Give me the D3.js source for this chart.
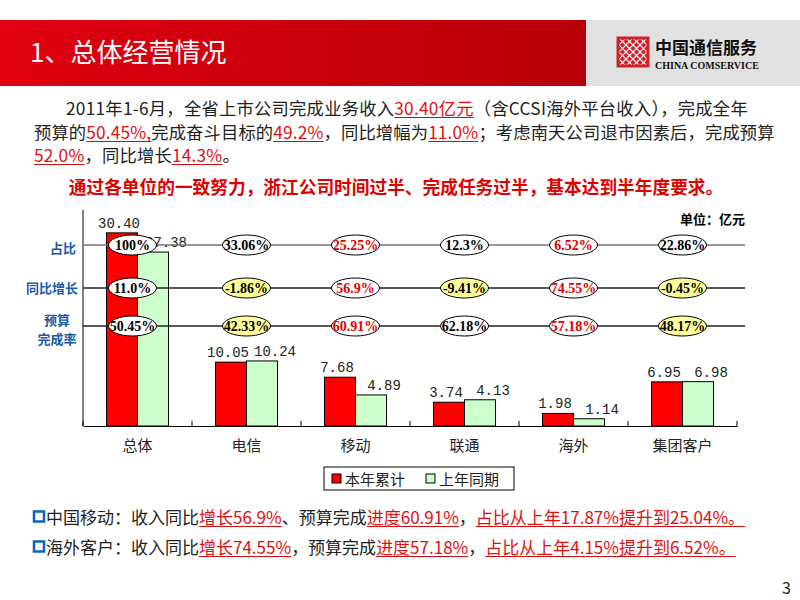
<!DOCTYPE html>
<html><head><meta charset="utf-8">
<script src="https://cdn.jsdelivr.net/npm/d3@7"></script>
<style>
html,body{margin:0;padding:0;background:#fff;}
svg{display:block;}
</style></head>
<body>
<svg id="c" width="800" height="600"></svg>
<script>
// ---- data ----
const categories = ["总体","电信","移动","联通","海外","集团客户"];
const thisYear = [30.40,10.05,7.68,3.74,1.98,6.95];
const lastYear = [27.38,10.24,4.89,4.13,1.14,6.98];
const seriesNames = ["本年累计","上年同期"];
const shareLabels  = ["100%","33.06%","25.25%","12.3%","6.52%","22.86%"];
const growthLabels = ["11.0%","-1.86%","56.9%","-9.41%","74.55%","-0.45%"];
const budgetLabels = ["50.45%","42.33%","60.91%","62.18%","57.18%","48.17%"];
const rowNames = [["占比"],["同比增长"],["预算","完成率"]];
const highlightCategories = ["移动","海外"];

(function(){
const svg = d3.select("#c");
const CJK = "'Noto Sans CJK SC','Noto Sans',sans-serif";

// ---- header ----
const defs = svg.append("defs");
const g1 = defs.append("linearGradient").attr("id","hdr").attr("x1","0").attr("x2","1");
g1.append("stop").attr("offset","0").attr("stop-color","#e10012");
g1.append("stop").attr("offset","1").attr("stop-color","#b70008");
svg.append("rect").attr("x",0).attr("y",20).attr("width",586).attr("height",66).attr("fill","url(#hdr)");
svg.append("rect").attr("x",586).attr("y",20).attr("width",214).attr("height",66).attr("fill","#e1e1e1");
svg.append("text").attr("x",30).attr("y",62).attr("fill","#fff")
  .style("font-family",CJK).style("font-size","26px").text("1、总体经营情况");

// logo
const clip = defs.append("clipPath").attr("id","lg");
clip.append("rect").attr("x",618).attr("y",38).attr("width",30).attr("height",28);
svg.append("rect").attr("x",618).attr("y",38).attr("width",30).attr("height",28).attr("fill","#d2202a");
const lat = svg.append("g").attr("clip-path","url(#lg)").attr("stroke","#fff").attr("stroke-width",1.2);
for (let k=-4;k<=4;k++){
  lat.append("line").attr("x1",633+k*7-20).attr("y1",32).attr("x2",633+k*7+20).attr("y2",72);
  lat.append("line").attr("x1",633+k*7+20).attr("y1",32).attr("x2",633+k*7-20).attr("y2",72);
}
svg.append("rect").attr("x",618).attr("y",38).attr("width",30).attr("height",28).attr("fill","none").attr("stroke","#d2202a").attr("stroke-width",3);
svg.append("text").attr("x",655).attr("y",54).attr("fill","#111")
  .style("font-family",CJK).style("font-size","17px").style("font-weight","bold").text("中国通信服务");
svg.append("text").attr("x",655).attr("y",69).attr("fill","#111")
  .style("font-family","'Liberation Serif',serif").style("font-size","10px").style("font-weight","bold").text("CHINA COMSERVICE");

// ---- rich text helper ----
function rich(x0, y0, segs, size, ls){
  const t = svg.append("text").attr("x",x0).attr("y",y0)
    .style("font-family",CJK).style("font-size",size+"px").style("letter-spacing",(ls||0)+"px").attr("fill","#222");
  const spans = segs.map(s => {
    const sp = t.append("tspan").text(s.t).attr("fill", s.red ? "#e01010" : "#222");
    return {sp, s};
  });
  spans.forEach(({sp,s}) => {
    if (s.red){
      const bb = sp.node().getBBox();
      svg.append("line").attr("x1",bb.x).attr("x2",bb.x+bb.width)
        .attr("y1",y0+3).attr("y2",y0+3).attr("stroke","#d01010").attr("stroke-width",1.2);
    }
  });
  return t;
}
const fs = 17.3;
rich(66,114.5,[{t:"2011年1-6月，全省上市公司完成业务收入"},{t:"30.40亿元",red:1},{t:"（含CCSI海外平台收入），完成全年"}],fs,0.25);
rich(34,138.5,[{t:"预算的"},{t:"50.45%,",red:1},{t:"完成奋斗目标的"},{t:"49.2%",red:1},{t:"，同比增幅为"},{t:"11.0%",red:1},{t:"；考虑南天公司退市因素后，完成预算"}],fs,0.15);
rich(34,161.5,[{t:"52.0%",red:1},{t:"，同比增长"},{t:"14.3%",red:1},{t:"。"}],fs,0.2);

svg.append("text").attr("x",396).attr("y",193.5).attr("text-anchor","middle").attr("fill","#e00000")
  .style("font-family",CJK).style("font-size","17.7px").style("font-weight","bold")
  .text("通过各单位的一致努力，浙江公司时间过半、完成任务过半，基本达到半年度要求。");

// ---- chart ----
const pL=83, pR=737, pT=210, pB=426;
const x = d3.scaleBand().domain(categories).range([pL,pR]).paddingInner(0).paddingOuter(0);
const y = d3.scaleLinear().domain([0,34]).range([pB,pT]);
const bw = 31;
const colors = ["#ff0000","#ccffcc"];
const series = [thisYear,lastYear];

const chart = svg.append("g");
series.forEach((vals,si)=>{
  chart.selectAll(null).data(vals).enter().append("rect")
    .attr("x",(d,i)=>x(categories[i])+x.bandwidth()/2-bw+si*bw)
    .attr("y",d=>y(d)).attr("width",bw).attr("height",d=>pB-y(d))
    .attr("fill",colors[si]).attr("stroke","#000").attr("stroke-width",1);
});
series.forEach((vals,si)=>{
  chart.selectAll(null).data(vals).enter().append("text")
    .attr("x",(d,i)=>x(categories[i])+x.bandwidth()/2-bw/2+si*bw+(si?13:-3))
    .attr("y",d=>y(d)-5).attr("text-anchor","middle").attr("fill","#222")
    .style("font-family","'Liberation Mono',monospace").style("font-size","14px")
    .text(d=>d.toFixed(2));
});
chart.append("line").attr("x1",pL).attr("x2",pL).attr("y1",pT).attr("y2",pB).attr("stroke","#000");
const xAxis = d3.axisBottom(x).tickSize(0).tickPadding(14);
const xg = chart.append("g").attr("transform",`translate(0,${pB})`).call(xAxis);
xg.select(".domain").attr("stroke","#000");
xg.selectAll("text").style("font-family",CJK).style("font-size","15px").attr("fill","#222");
for (let i=0;i<=categories.length;i++){
  const xx = pL + i*x.step();
  chart.append("line").attr("x1",xx).attr("x2",xx).attr("y1",pB-5).attr("y2",pB).attr("stroke","#000");
}

// annotation rows
const rowY = [245,288,326];
const rowData = [shareLabels,growthLabels,budgetLabels];
const lineEnd = 745;
rowY.forEach((ry,ri)=>{
  chart.append("line").attr("x1",pL).attr("x2",lineEnd).attr("y1",ry).attr("y2",ry)
    .attr("stroke", ri===0 ? "#777" : "#222").attr("stroke-width",1.5);
});
rowData.forEach((labels,ri)=>{
  labels.forEach((lab,i)=>{
    const cx = x(categories[i])+x.bandwidth()/2 - (i===0?5:0);
    const v = parseFloat(lab);
    const yellow = (ri===1 && v<0) || (ri===2 && v<50);
    const red = highlightCategories.includes(categories[i]);
    chart.append("ellipse").attr("cx",cx).attr("cy",rowY[ri]).attr("rx",24).attr("ry",10)
      .attr("fill",yellow?"#ffff99":"#fff").attr("stroke","#000").attr("stroke-width",1);
    chart.append("text").attr("x",cx).attr("y",rowY[ri]+5).attr("text-anchor","middle")
      .attr("fill",red?"#e00000":"#000")
      .style("font-family","'Liberation Serif',serif").style("font-size","14px").style("font-weight","bold")
      .text(lab);
  });
});
const nameCfg = [{y:[253],x:76},{y:[293],x:78},{y:[325,344],x:57}];
rowNames.forEach((lines,ri)=>{
  lines.forEach((ln,li)=>{
    svg.append("text").attr("x",nameCfg[ri].x).attr("y",nameCfg[ri].y[li])
      .attr("text-anchor",ri<2?"end":"middle").attr("fill","#1a5ba6")
      .style("font-family",CJK).style("font-size","13px").style("font-weight","bold").text(ln);
  });
});
svg.append("text").attr("x",745).attr("y",224).attr("text-anchor","end").attr("fill","#000")
  .style("font-family",CJK).style("font-size","13px").style("font-weight","bold").text("单位：亿元");

// legend
const lg = svg.append("g");
lg.append("rect").attr("x",324).attr("y",467).attr("width",190).attr("height",23).attr("fill","#fff").attr("stroke","#000");
seriesNames.forEach((n,i)=>{
  const lx = 332 + i*94;
  lg.append("rect").attr("x",lx).attr("y",474).attr("width",9).attr("height",9).attr("fill",colors[i]).attr("stroke","#000");
  lg.append("text").attr("x",lx+13).attr("y",484.5).attr("fill","#222")
    .style("font-family",CJK).style("font-size","15px").text(n);
});

// ---- bottom bullets ----
function bullet(yc){
  svg.append("rect").attr("x",34).attr("y",yc-5.5).attr("width",10).attr("height",10)
    .attr("fill","none").attr("stroke","#0a64c0").attr("stroke-width",2.5);
}
bullet(517); bullet(547);
const bs = 17;
rich(46,523.5,[{t:"中国移动：收入同比"},{t:"增长56.9%",red:1},{t:"、预算完成"},{t:"进度60.91%",red:1},{t:"，"},{t:"占比从上年17.87%提升到25.04%。",red:1}],bs);
rich(46,553.5,[{t:"海外客户：收入同比"},{t:"增长74.55%",red:1},{t:"，预算完成"},{t:"进度57.18%",red:1},{t:"，"},{t:"占比从上年4.15%提升到6.52%。",red:1}],bs);

svg.append("text").attr("x",791).attr("y",594).attr("text-anchor","end").attr("fill","#222")
  .style("font-family",CJK).style("font-size","16px").text("3");
})();
</script>
</body></html>
